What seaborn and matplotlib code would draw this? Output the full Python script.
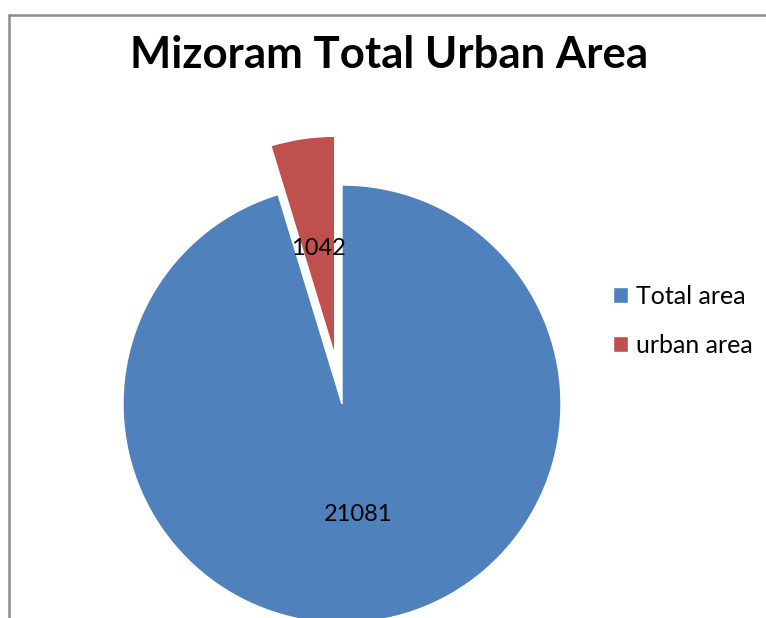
import matplotlib
matplotlib.use("Agg")
import matplotlib.pyplot as plt
from matplotlib.lines import Line2D
import seaborn as sns

# Data
categories = ["Total area", "urban area"]
areas = [21081, 1042]
colors = ["#4F81BD", "#C0504D"]
explode = [0, 0.225]

sns.set_theme(style="white")
plt.rcParams["font.family"] = ["Lato", "DejaVu Sans"]
plt.rcParams["text.color"] = "black"

fig = plt.figure(figsize=(7.66, 6.18), dpi=100)
ax = fig.add_axes([0, 0, 1, 1])

total = sum(areas)
wedges, texts, autotexts = ax.pie(
    areas,
    colors=colors,
    explode=explode,
    startangle=90,
    counterclock=False,
    autopct=lambda p: f"{round(p * total / 100)}",
    pctdistance=0.5,
    textprops={"fontsize": 17, "color": "black"},
)
for t in autotexts:
    t.set_va("center_baseline")

# pie radius = 219 px, centre at (342, 404) px from top-left
r = 219
ax.set_xlim(-342 / r, (766 - 342) / r)
ax.set_ylim(-(618 - 404) / r, 404 / r)
ax.set_aspect("equal")
ax.axis("off")

fig.text(389 / 766, (618 - 68) / 618, "Mizoram Total Urban Area",
         ha="center", va="baseline", fontsize=31.5, fontweight="bold", color="black")

ax.legend(wedges, categories, loc="center left",
          bbox_to_anchor=(613 / 766, (618 - 321) / 618),
          bbox_transform=fig.transFigure, frameon=False, fontsize=18,
          handlelength=0.6, handleheight=0.6, handletextpad=0.3,
          labelspacing=1.05, borderpad=0, borderaxespad=0,
          labelcolor="black")

# chart-area frame (only the left and top edges are visible)
fx = 9 / 766
fy = (618 - 15) / 618
fig.add_artist(Line2D([fx, fx], [0, fy], transform=fig.transFigure, color="#8c8c8c", lw=1.8))
fig.add_artist(Line2D([fx, 1], [fy, fy], transform=fig.transFigure, color="#8c8c8c", lw=1.8))

plt.savefig("out.png", dpi=100)
